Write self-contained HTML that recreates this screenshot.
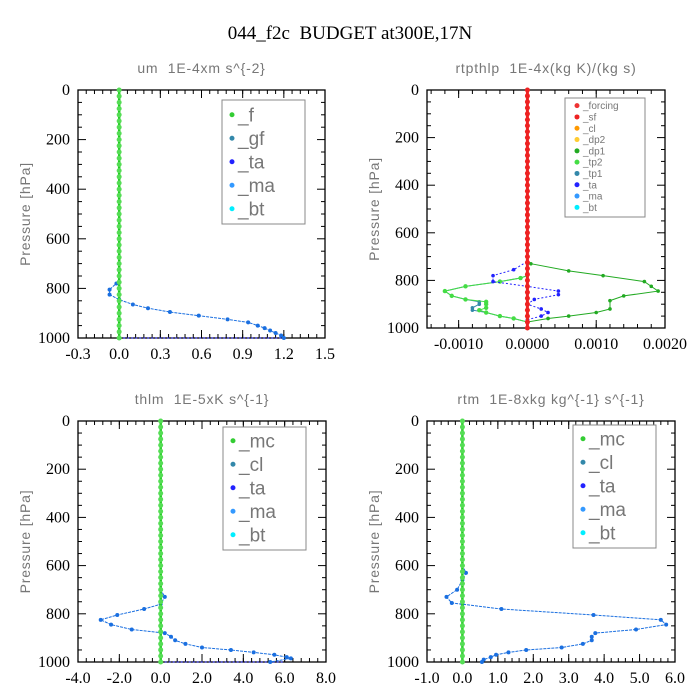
<!DOCTYPE html>
<html><head><meta charset="utf-8">
<style>
html,body{margin:0;padding:0;background:#fff;}
svg{display:block;}
text{white-space:pre;}
.tick{font-family:"Liberation Serif",serif;font-size:16px;fill:#000;}
.sub{font-family:"Liberation Sans",sans-serif;font-size:14px;fill:#777;letter-spacing:0.8px;}
.leg{font-family:"Liberation Sans",sans-serif;fill:#777;}
</style></head>
<body>
<svg id="chart" width="700" height="700" viewBox="0 0 700 700" xmlns="http://www.w3.org/2000/svg" xml:space="preserve">
<text x="350" y="39" text-anchor="middle" font-family="Liberation Serif,serif" font-size="19">044_f2c  BUDGET at300E,17N</text>
</svg>
<script>
// ---- data ----
const zeroLevels = [0,25,50,75,100,125,150,175,200,225,250,275,300,325,350,375,400,425,450,475,500,525,550,575,600,625,650,675,700,725,750,775,800,825,850,875,900,925,950,975,1000];
// panel 1: um
const umP = [0,760,780,805,825,845,865,880,895,910,925,937,950,960,970,980,990,1000];
const umBt = [0,0,-0.02,-0.07,-0.07,0,0.1,0.21,0.37,0.58,0.79,0.94,1.01,1.06,1.10,1.14,1.18,1.2];
const umXTicks = [-0.3,0.0,0.3,0.6,0.9,1.2,1.5];
const umXLabels = ["-0.3","0.0","0.3","0.6","0.9","1.2","1.5"];
// panel 2: rtpthlp
const rtP_dp1 = [0,720,730,760,780,805,825,845,865,885,920,935,950,960,975,1000];
const rtDp1 = [0,0,0.00005,0.0006,0.0011,0.0017,0.0018,0.0019,0.0014,0.0012,0.0012,0.001,0.0006,0.0003,0,0];
const rtP_tp = [0,780,790,805,825,845,865,880,890,900,915,925,935,950,960,975,1000];
const rtTp2 = [0,0,-0.0001,-0.0004,-0.0009,-0.0012,-0.0011,-0.0009,-0.0006,-0.0006,-0.0006,-0.0007,-0.0006,-0.0004,-0.0002,0,0];
const rtTp1 = [0,0,-0.0001,-0.0004,-0.0009,-0.0012,-0.0011,-0.0009,-0.0007,-0.0007,-0.0008,-0.0008,-0.0006,-0.0004,-0.0002,0,0];
const rtP_ta = [0,720,755,780,805,825,845,860,880,900,920,935,950,965,1000];
const rtTa = [0,0,-0.0002,-0.0005,-0.0005,0,0.00045,0.00045,0.0001,0,0.0002,0.0003,0.0002,0,0];
const rtXTicks = [-0.001,0,0.001,0.002];
const rtXLabels = ["-0.0010","0.0000","0.0010","0.0020"];
// panel 3: thlm
const thP = [0,700,730,760,780,805,825,845,865,880,895,910,925,940,950,960,970,980,985,1000];
const thBt = [0,0,0.2,0,-0.8,-2.1,-2.9,-2.4,-1.4,0.2,0.5,0.7,1.2,2.0,3.4,4.5,5.5,6.1,6.3,5.3];
const thXTicks = [-4,-2,0,2,4,6,8];
const thXLabels = ["-4.0","-2.0","0.0","2.0","4.0","6.0","8.0"];
// panel 4: rtm
const rmP = [0,600,630,660,700,730,755,760,780,805,825,845,865,880,895,910,925,940,950,960,970,980,990,1000];
const rmBt = [0,0,0.1,0,-0.15,-0.45,-0.3,0,1.1,3.7,5.6,5.75,4.9,3.75,3.65,3.65,3.4,2.8,1.8,1.3,0.95,0.8,0.6,0.55];
const rmXTicks = [-1,0,1,2,3,4,5,6];
const rmXLabels = ["-1.0","0.0","1.0","2.0","3.0","4.0","5.0","6.0"];
const yTicks = [0,200,400,600,800,1000];

const svg = document.getElementById('chart');
const NS = 'http://www.w3.org/2000/svg';
function mk(tag, attrs, parent){
  const e = document.createElementNS(NS, tag);
  for (const k in attrs) e.setAttribute(k, attrs[k]);
  (parent||svg).appendChild(e);
  return e;
}

function panel(cfg){
  const g = mk('g', {});
  
  
  const {x0,x1,y0,y1,xmin,xmax} = cfg;
  const sx = v => x0 + (v - xmin) / (xmax - xmin) * (x1 - x0);
  const sy = p => y0 + p / 1000 * (y1 - y0);
  const t = mk('text', {x:(x0+x1)/2, y:y0-17, 'text-anchor':'middle', class:'sub'}, g);
  t.textContent = cfg.title;
  
  
  const yl = mk('text', {x:0, y:0, 'text-anchor':'middle', class:'sub', transform:`translate(${x0-48},${(y0+y1)/2}) rotate(-90)`, 'font-size':'15', 'letter-spacing':'2'}, g);
  yl.textContent = 'Pressure [hPa]';
  
  
  const fr = mk('rect', {x:x0, y:y0, width:x1-x0, height:y1-y0, fill:'none', stroke:'#000', 'stroke-width':1.3}, g);
  
  
  for (let p = 0; p <= 1000; p += 50){
    const major = yTicks.includes(p);
    const L = major ? 8 : 4;
    mk('line', {x1:x0, x2:x0+L, y1:sy(p), y2:sy(p), stroke:'#000'}, g);
    mk('line', {x1:x1, x2:x1-L, y1:sy(p), y2:sy(p), stroke:'#000'}, g);
  }
  yTicks.forEach(p => {
    const tt = mk('text', {x:x0-8, y:sy(p)+5, 'text-anchor':'end', class:'tick'}, g);
    tt.textContent = String(p);
    
    
  });
  const xt = cfg.xTicks;
  for (let i = 0; i < xt.length; i++){
    mk('line', {x1:sx(xt[i]), x2:sx(xt[i]), y1:y1, y2:y1-8, stroke:'#000'}, g);
    mk('line', {x1:sx(xt[i]), x2:sx(xt[i]), y1:y0, y2:y0+8, stroke:'#000'}, g);
    const tt = mk('text', {x:sx(xt[i]), y:y1+21, 'text-anchor':'middle', class:'tick'}, g);
    tt.textContent = cfg.xLabels[i];
    
    
  }
  const step = (xt[1]-xt[0])/5;
  for (let v = xt[0]-step*10; v <= xmax+1e-12; v += step){
    if (v < xmin-1e-12) continue;
    mk('line', {x1:sx(v), x2:sx(v), y1:y1, y2:y1-4, stroke:'#000'}, g);
    mk('line', {x1:sx(v), x2:sx(v), y1:y0, y2:y0+4, stroke:'#000'}, g);
  }
  cfg.series.forEach(s => {
    const sg = mk('g', {}, g);
    
    
    const pts = s.p.map((p,i) => sx(s.v[i]).toFixed(1)+','+sy(p).toFixed(1)).join(' ');
    mk('polyline', {points:pts, fill:'none', stroke:s.color, 'stroke-width':s.w||1, 'stroke-dasharray':s.dash||''}, sg);
    if (s.marker){
      s.p.forEach((p,i) => {
        if (s.skipZero && i>0 && i<s.p.length-1 && s.v[i]===0 && s.v[i-1]===0) return;
        mk('circle', {cx:sx(s.v[i]), cy:sy(p), r:s.r||2, fill:s.mcolor||s.color}, sg);
      });
    }
  });
  const lg = cfg.legend;
  const lgG = mk('g', {}, g);
  
  
  mk('rect', {x:lg.x, y:lg.y, width:lg.w, height:lg.h, fill:'#fff', stroke:'#888', 'stroke-width':1}, lgG);
  lg.items.forEach((it, i) => {
    const yy = lg.y + lg.dy*(i+0.5) + lg.pad;
    mk('circle', {cx:lg.x+lg.mx, cy:yy, r:2.5, fill:it[1]}, lgG);
    const tt = mk('text', {x:lg.x+lg.mx+6, y:yy+lg.fs*0.35, class:'leg', 'font-size':lg.fs}, lgG);
    tt.textContent = it[0];
    
    
  });
}

const zeros = zeroLevels.map(() => 0);

panel({name:'um-panel', title:'um  1E-4xm s^{-2}', x0:78, x1:325, y0:90, y1:338, xmin:-0.3, xmax:1.5,
  xTicks:umXTicks, xLabels:umXLabels,
  series:[
    {name:'ta-surface-line', p:[1000,1000], v:[0,1.2], color:'#22f', dash:'2,2'},
    {name:'bt-line', p:umP, v:umBt, color:'#1a6fe0', marker:true, skipZero:true, dash:'3,1'},
    {name:'f-line', p:zeroLevels, v:zeros, color:'#2c2', w:2.5, marker:true, r:2.5, mcolor:'#5d5'}
  ],
  legend:{x:222,y:100,w:83,h:124,dy:23.5,pad:3,mx:10,fs:19,items:[['_f','#3c3'],['_gf','#38a'],['_ta','#22f'],['_ma','#39f'],['_bt','#0ef']]}
});

panel({name:'rtpthlp-panel', title:'rtpthlp  1E-4x(kg K)/(kg s)', x0:427, x1:665, y0:90, y1:328, xmin:-0.00146, xmax:0.002,
  xTicks:rtXTicks, xLabels:rtXLabels,
  series:[
    {name:'dp1-line', p:rtP_dp1, v:rtDp1, color:'#2a2', marker:true, skipZero:true, r:1.8},
    {name:'tp1-line', p:rtP_tp, v:rtTp1, color:'#38a', marker:true, skipZero:true, r:1.8},
    {name:'tp2-line', p:rtP_tp, v:rtTp2, color:'#4d4', marker:true, skipZero:true, r:2.2},
    {name:'ta-line', p:rtP_ta, v:rtTa, color:'#22f', marker:true, skipZero:true, dash:'2,2', r:1.8},
    {name:'forcing-line', p:zeroLevels, v:zeros, color:'#e22', w:3, marker:true, r:2.5}
  ],
  legend:{x:565,y:98,w:80,h:119,dy:11.3,pad:2,mx:12,fs:10,items:[['_forcing','#e33'],['_sf','#e22'],['_cl','#f90'],['_dp2','#fc3'],['_dp1','#2a2'],['_tp2','#4d4'],['_tp1','#38a'],['_ta','#22f'],['_ma','#39f'],['_bt','#0ef']]}
});

panel({name:'thlm-panel', title:'thlm  1E-5xK s^{-1}', x0:78, x1:326, y0:421, y1:662, xmin:-4, xmax:8,
  xTicks:thXTicks, xLabels:thXLabels,
  series:[
    {name:'ta-surface-line', p:[1000,1000], v:[0,6], color:'#22f', dash:'2,2'},
    {name:'bt-line', p:thP, v:thBt, color:'#1a6fe0', marker:true, skipZero:true, dash:'3,1'},
    {name:'mc-line', p:zeroLevels, v:zeros, color:'#2c2', w:2.5, marker:true, r:2.5, mcolor:'#5d5'}
  ],
  legend:{x:223,y:427,w:83,h:123,dy:23.5,pad:2,mx:10,fs:19,items:[['_mc','#3c3'],['_cl','#38a'],['_ta','#22f'],['_ma','#39f'],['_bt','#0ef']]}
});

panel({name:'rtm-panel', title:'rtm  1E-8xkg kg^{-1} s^{-1}', x0:427, x1:675, y0:421, y1:662, xmin:-1, xmax:6,
  xTicks:rmXTicks, xLabels:rmXLabels,
  series:[
    {name:'bt-line', p:rmP, v:rmBt, color:'#1a6fe0', marker:true, skipZero:true, dash:'3,1'},
    {name:'mc-line', p:zeroLevels, v:zeros, color:'#2c2', w:2.5, marker:true, r:2.5, mcolor:'#5d5'}
  ],
  legend:{x:573,y:425,w:83,h:123,dy:23.5,pad:2,mx:10,fs:19,items:[['_mc','#3c3'],['_cl','#38a'],['_ta','#22f'],['_ma','#39f'],['_bt','#0ef']]}
});
</script>
</body></html>
